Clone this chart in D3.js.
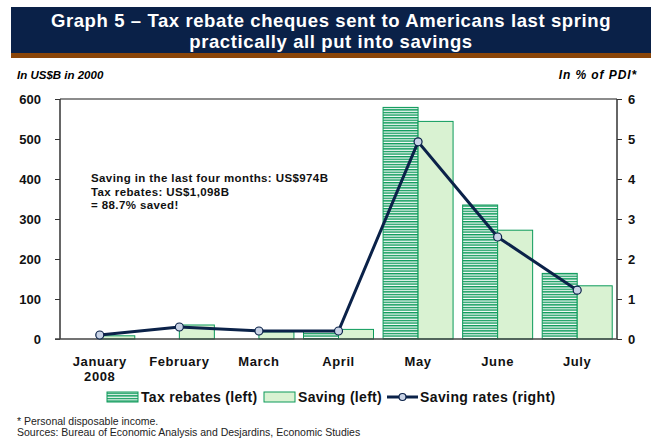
<!DOCTYPE html>
<html><head><meta charset="utf-8">
<script src="https://cdn.jsdelivr.net/npm/d3@7"></script>
<style>
body{margin:0;background:#fff;}
svg{display:block;font-family:"Liberation Sans",Arial,sans-serif;}
</style></head>
<body><svg id="c" width="651" height="438"></svg>
<script>
const months = ["January", "February", "March", "April", "May", "June", "July"];
const taxRebates = [0, 0, 0, 20, 579, 335, 164];
const saving = [8, 35, 18, 24, 544, 272, 133];
const savingRate = [0.1, 0.3, 0.2, 0.2, 4.93, 2.55, 1.22];
const leftTicks = [0, 100, 200, 300, 400, 500, 600];
const rightTicks = [0, 1, 2, 3, 4, 5, 6];

const svg = d3.select("#c");
const navy = "#0b2249", green = "#0c9a5a", lightGreen = "#d9f2d2";
const L = 60, R = 617, T = 99, B = 339;

// Title banner
svg.append("rect").attr("x", 11).attr("y", 7).attr("width", 640).attr("height", 47).attr("fill", "#0a2148");
svg.append("rect").attr("x", 11).attr("y", 53).attr("width", 640).attr("height", 5).attr("fill", "#8a4508");
svg.append("text").attr("x", 331).attr("y", 27).attr("text-anchor", "middle").attr("fill", "#fff")
  .attr("font-size", 18.5).attr("font-weight", "bold").attr("letter-spacing", 0.6).text("Graph 5 \u2013 Tax rebate cheques sent to Americans last spring");
svg.append("text").attr("x", 331).attr("y", 48).attr("text-anchor", "middle").attr("fill", "#fff")
  .attr("font-size", 18.5).attr("font-weight", "bold").attr("letter-spacing", 0.6).text("practically all put into savings");

// axis titles
svg.append("text").attr("x", 17).attr("y", 79).attr("font-size", 11.5).attr("font-weight", "bold").attr("font-style", "italic").text("In US$B in 2000");
svg.append("text").attr("x", 637).attr("y", 79).attr("text-anchor", "end").attr("font-size", 12).attr("font-weight", "bold").attr("font-style", "italic").attr("letter-spacing", 0.9).text("In % of PDI*");

// pattern
const defs = svg.append("defs");
const pat = defs.append("pattern").attr("id", "hatch").attr("patternUnits", "userSpaceOnUse").attr("width", 8).attr("height", 2.6);
pat.append("rect").attr("width", 8).attr("height", 2.6).attr("fill", "#fff");
pat.append("rect").attr("width", 8).attr("height", 1.4).attr("fill", green);

const x = d3.scaleBand().domain(months).range([L, R]).paddingInner(0).paddingOuter(0);
const yL = d3.scaleLinear().domain([0, 600]).range([B, T]);
const yR = d3.scaleLinear().domain([0, 6]).range([B, T]);
const bw = 35;

// top border
svg.append("line").attr("x1", L).attr("x2", R).attr("y1", T).attr("y2", T).attr("stroke", "#666").attr("stroke-width", 1.5);

// bars
svg.append("g").selectAll("rect").data(months).join("rect")
  .attr("x", (d) => x(d) + x.bandwidth() / 2 - bw)
  .attr("y", (d, i) => yL(taxRebates[i]))
  .attr("width", bw)
  .attr("height", (d, i) => B - yL(taxRebates[i]))
  .attr("fill", "url(#hatch)").attr("stroke", green).attr("stroke-width", 1)
  .attr("display", (d, i) => taxRebates[i] > 0 ? null : "none");
svg.append("g").selectAll("rect").data(months).join("rect")
  .attr("x", (d) => x(d) + x.bandwidth() / 2)
  .attr("y", (d, i) => yL(saving[i]))
  .attr("width", bw)
  .attr("height", (d, i) => B - yL(saving[i]))
  .attr("fill", lightGreen).attr("stroke", green).attr("stroke-width", 1);

// axes
const axL = svg.append("g").attr("transform", `translate(${L},0)`)
  .call(d3.axisLeft(yL).tickValues(leftTicks).tickSize(5).tickPadding(14));
const axR = svg.append("g").attr("transform", `translate(${R},0)`)
  .call(d3.axisRight(yR).tickValues(rightTicks).tickFormat(d3.format("d")).tickSize(5).tickPadding(6));
[axL, axR].forEach(a => {
  a.select(".domain").attr("stroke", "#333").attr("stroke-width", 1.5);
  a.selectAll(".tick line").attr("stroke", "#333");
  a.selectAll("text").attr("font-size", 13).attr("font-weight", "bold").attr("fill", "#111")
    .attr("font-family", "Liberation Sans, Arial, sans-serif");
});
axL.select(".domain").attr("d", `M-0,${T}V${B}`);
axR.select(".domain").attr("d", `M0,${T}V${B}`);

// baseline
svg.append("line").attr("x1", L - 5).attr("x2", R).attr("y1", B).attr("y2", B).attr("stroke", "#444").attr("stroke-width", 1.5);

// x labels
const xl = svg.append("g");
months.forEach((m, i) => {
  xl.append("text").attr("x", x(m) + x.bandwidth() / 2).attr("y", 366).attr("text-anchor", "middle")
    .attr("font-size", 13).attr("font-weight", "bold").attr("letter-spacing", 0.6).attr("fill", "#111").text(m);
});
xl.append("text").attr("x", x(months[0]) + x.bandwidth() / 2).attr("y", 381).attr("text-anchor", "middle")
  .attr("font-size", 13).attr("font-weight", "bold").attr("letter-spacing", 0.6).attr("fill", "#111").text("2008");

// line
const line = d3.line().x((d, i) => x(months[i]) + x.bandwidth() / 2).y(d => yR(d));
svg.append("path").datum(savingRate).attr("d", line).attr("fill", "none").attr("stroke", navy).attr("stroke-width", 3);
svg.append("g").selectAll("circle").data(savingRate).join("circle")
  .attr("cx", (d, i) => x(months[i]) + x.bandwidth() / 2).attr("cy", d => yR(d)).attr("r", 4)
  .attr("fill", "#c9d3e6").attr("stroke", navy).attr("stroke-width", 1.2);

// annotation
const ann = ["Saving in the last four months: US$974B", "Tax rebates: US$1,098B", "= 88.7% saved!"];
ann.forEach((t, i) => svg.append("text").attr("x", 91).attr("y", 182 + i * 13.5).attr("font-size", 11.5)
  .attr("font-weight", "bold").attr("letter-spacing", 0.4).attr("fill", "#111").text(t));

// legend
const lg = svg.append("g");
lg.append("rect").attr("x", 107).attr("y", 392).attr("width", 31).attr("height", 10).attr("fill", "url(#hatch)").attr("stroke", green);
lg.append("text").attr("x", 141).attr("y", 402).attr("font-size", 14).attr("font-weight", "bold").attr("letter-spacing", 0.3).attr("fill", "#111").text("Tax rebates (left)");
lg.append("rect").attr("x", 264).attr("y", 392).attr("width", 31).attr("height", 10).attr("fill", lightGreen).attr("stroke", green);
lg.append("text").attr("x", 298).attr("y", 402).attr("font-size", 14).attr("font-weight", "bold").attr("letter-spacing", 0.3).attr("fill", "#111").text("Saving (left)");
lg.append("line").attr("x1", 387).attr("x2", 418).attr("y1", 397).attr("y2", 397).attr("stroke", navy).attr("stroke-width", 3);
lg.append("circle").attr("cx", 402.5).attr("cy", 397).attr("r", 3.5).attr("fill", "#c9d3e6").attr("stroke", navy).attr("stroke-width", 1.2);
lg.append("text").attr("x", 420).attr("y", 402).attr("font-size", 14).attr("font-weight", "bold").attr("letter-spacing", 0.4).attr("fill", "#111").text("Saving rates (right)");

// footnotes
svg.append("text").attr("x", 17).attr("y", 425).attr("font-size", 10.5).attr("fill", "#222").text("* Personal disposable income.");
svg.append("text").attr("x", 17).attr("y", 436).attr("font-size", 10.5).attr("fill", "#222").text("Sources: Bureau of Economic Analysis and Desjardins, Economic Studies");
</script></body></html>
